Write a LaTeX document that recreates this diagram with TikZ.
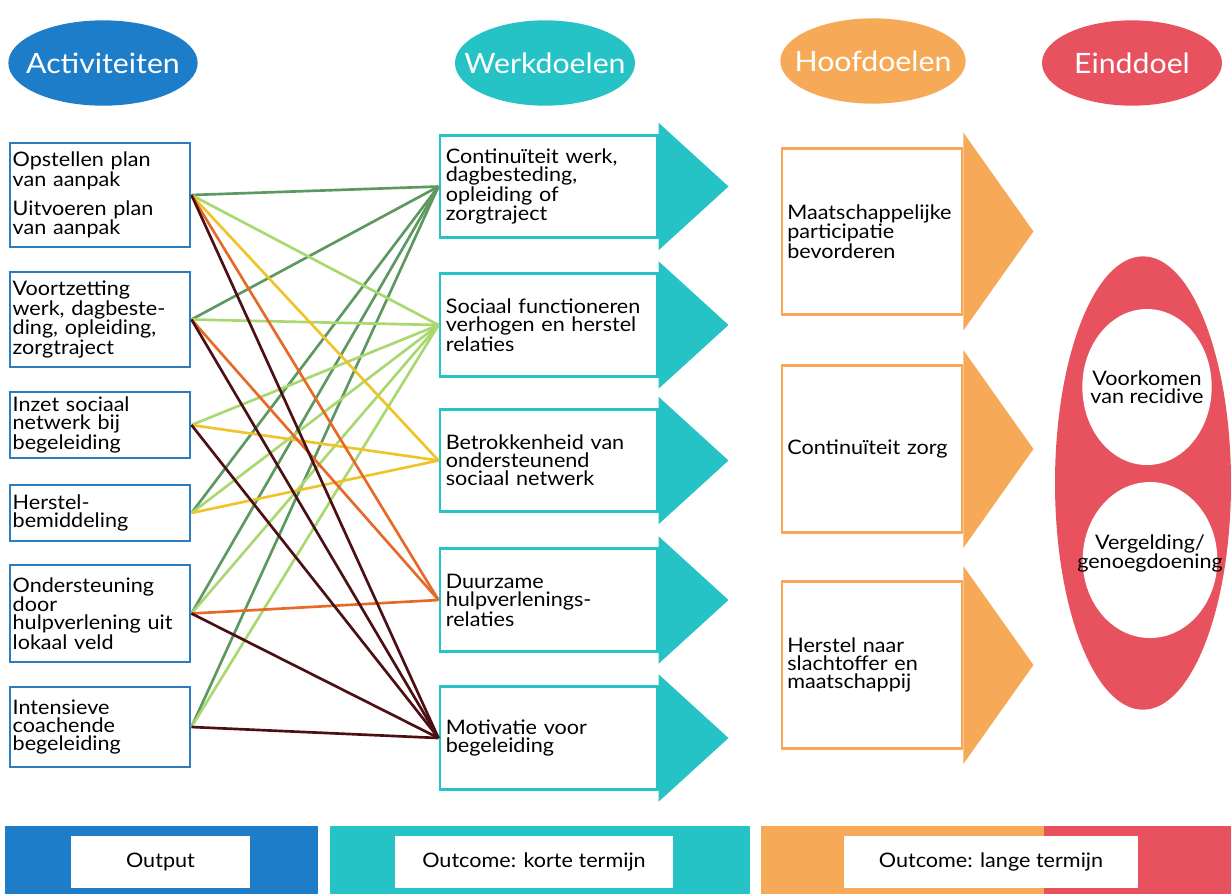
\documentclass[tikz,border=0pt]{standalone}
\usepackage{fontspec}
\setmainfont{Lato}[FakeStretch=1.08]
\usetikzlibrary{shapes.geometric,calc}

\definecolor{actblue}{RGB}{30,125,200}
\definecolor{actrand}{RGB}{45,125,190}
\definecolor{wdteal}{RGB}{38,195,198}
\definecolor{hdorange}{RGB}{246,170,88}
\definecolor{edred}{RGB}{232,82,95}
\definecolor{lndarkgreen}{RGB}{92,152,96}
\definecolor{lnlightgreen}{RGB}{170,216,112}
\definecolor{lnyellow}{RGB}{240,196,40}
\definecolor{lnorange}{RGB}{230,105,40}
\definecolor{lnbrown}{RGB}{76,16,20}

\begin{document}
\begin{tikzpicture}[x=0.75pt,y=0.75pt,yscale=-1,xscale=1,
  kop/.style={ellipse, minimum width=142pt, minimum height=64pt, inner sep=0pt},
  koptekst/.style={text=white, inner sep=0pt, font=\fontsize{21}{23}\selectfont},
  actbox/.style={draw=actrand, line width=2.2pt, fill=white, text width=131pt, inner xsep=2pt, inner ysep=0pt, align=left, font=\fontsize{15}{13.6}\selectfont},
  wdbox/.style={draw=wdteal, line width=2.2pt, fill=white, text width=154pt, inner xsep=4.4pt, inner ysep=0pt, minimum height=77pt, align=left, font=\fontsize{15}{13.6}\selectfont},
  hdbox/.style={draw=hdorange, line width=2.2pt, fill=white, text width=127pt, inner xsep=4pt, inner ysep=0pt, minimum height=125pt, align=left, font=\fontsize{15}{13.6}\selectfont},
  doelrond/.style={ellipse, fill=white, inner sep=0pt},
  doeltekst/.style={inner sep=0pt, align=center, font=\fontsize{15}{13.6}\selectfont},
  termijn/.style={fill=white, minimum height=39pt, inner sep=0pt, font=\fontsize{15}{16}\selectfont},
  lijn/.style={line width=2pt}
]
\useasboundingbox (0,0) rectangle (1231,894);

% Text Node
\node[kop, fill=actblue, label={[koptekst]center:Activiteiten}] (kopact) at (103,63) {};
% Text Node
\node[kop, fill=wdteal, minimum width=135pt, label={[koptekst]center:Werkdoelen}] (kopwd) at (545,63) {};
% Text Node
\node[kop, fill=hdorange, minimum width=139pt, label={[koptekst]center:Hoofdoelen}] (kophd) at (873,61) {};
% Text Node
\node[kop, fill=edred, minimum width=135pt, label={[koptekst]center:Einddoel}] (koped) at (1132,63) {};

%Shape: Rectangle
\node[actbox, minimum height=78pt] (act1) at (100,195) {Opstellen plan\\van aanpak\\[7pt]Uitvoeren plan\\van aanpak};
\node[actbox, minimum height=71.25pt] (act2) at (100,319.5) {Voortzetting\\werk, dagbeste-\\ding, opleiding,\\zorgtraject};
\node[actbox, minimum height=49.5pt] (act3) at (100,425) {Inzet sociaal\\netwerk bij\\begeleiding};
\node[actbox, minimum height=42pt] (act4) at (100,513) {Herstel-\\bemiddeling};
\node[actbox, minimum height=72.75pt] (act5) at (100,613.5) {Ondersteuning\\door\\hulpverlening uit\\lokaal veld};
\node[actbox, minimum height=60pt] (act6) at (100,727) {Intensieve\\coachende\\begeleiding};

%Shape: Rectangle
\node[wdbox] (wd1) at (548.5,186.5) {Continuïteit werk,\\dagbesteding,\\opleiding of\\zorgtraject};
\node[wdbox] (wd2) at (548.5,325) {Sociaal functioneren\\verhogen en herstel\\relaties};
\node[wdbox] (wd3) at (548.5,460.5) {Betrokkenheid van\\ondersteunend\\sociaal netwerk};
\node[wdbox] (wd4) at (548.5,600) {Duurzame\\hulpverlenings-\\relaties};
\node[wdbox] (wd5) at (548.5,738) {Motivatie voor\\begeleiding};

%Shape: Triangle
\fill[wdteal] ($(wd1.north east)+(0,-11)$) -- ($(wd1.east)+(70,0)$) -- ($(wd1.south east)+(0,11)$) -- cycle;
\fill[wdteal] ($(wd2.north east)+(0,-11)$) -- ($(wd2.east)+(70,0)$) -- ($(wd2.south east)+(0,11)$) -- cycle;
\fill[wdteal] ($(wd3.north east)+(0,-11)$) -- ($(wd3.east)+(70,0)$) -- ($(wd3.south east)+(0,11)$) -- cycle;
\fill[wdteal] ($(wd4.north east)+(0,-11)$) -- ($(wd4.east)+(70,0)$) -- ($(wd4.south east)+(0,11)$) -- cycle;
\fill[wdteal] ($(wd5.north east)+(0,-11)$) -- ($(wd5.east)+(70,0)$) -- ($(wd5.south east)+(0,11)$) -- cycle;

%Shape: Rectangle
\node[hdbox] (hd1) at (872,231.5) {Maatschappelijke\\participatie\\bevorderen};
\node[hdbox] (hd2) at (872,449) {Continuïteit zorg};
\node[hdbox] (hd3) at (872,665) {Herstel naar\\slachtoffer en\\maatschappij};

%Shape: Triangle
\fill[hdorange] ($(hd1.north east)+(0,-14)$) -- ($(hd1.east)+(70,0)$) -- ($(hd1.south east)+(0,14)$) -- cycle;
\fill[hdorange] ($(hd2.north east)+(0,-14)$) -- ($(hd2.east)+(70,0)$) -- ($(hd2.south east)+(0,14)$) -- cycle;
\fill[hdorange] ($(hd3.north east)+(0,-14)$) -- ($(hd3.east)+(70,0)$) -- ($(hd3.south east)+(0,14)$) -- cycle;

%Shape: Ellipse
\node[ellipse, fill=edred, minimum width=132pt, minimum height=340pt] (einddoel) at (1143,483) {};
% Text Node
\node[doelrond, minimum width=97pt, minimum height=117pt, label={[doeltekst]center:{Voorkomen\\van recidive}}] (ed1) at (1147,387) {};
\node[doelrond, minimum width=101pt, minimum height=117pt, label={[doeltekst, yshift=5pt]center:{Vergelding/\\genoegdoening}}] (ed2) at (1150,560) {};

%Straight Lines
\draw[lijn, lndarkgreen] (act1.east) -- (wd1.west);
\draw[lijn, lndarkgreen] (act2.east) -- (wd1.west);
\draw[lijn, lndarkgreen] (act4.east) -- (wd1.west);
\draw[lijn, lndarkgreen] (act5.east) -- (wd1.west);
\draw[lijn, lndarkgreen] (act6.east) -- (wd1.west);
%Straight Lines
\draw[lijn, lnlightgreen] (act1.east) -- (wd2.west);
\draw[lijn, lnlightgreen] (act2.east) -- (wd2.west);
\draw[lijn, lnlightgreen] (act3.east) -- (wd2.west);
\draw[lijn, lnlightgreen] (act4.east) -- (wd2.west);
\draw[lijn, lnlightgreen] (act5.east) -- (wd2.west);
\draw[lijn, lnlightgreen] (act6.east) -- (wd2.west);
%Straight Lines
\draw[lijn, lnyellow] (act1.east) -- (wd3.west);
\draw[lijn, lnyellow] (act3.east) -- (wd3.west);
\draw[lijn, lnyellow] (act4.east) -- (wd3.west);
%Straight Lines
\draw[lijn, lnorange] (act1.east) -- (wd4.west);
\draw[lijn, lnorange] (act2.east) -- (wd4.west);
\draw[lijn, lnorange] (act5.east) -- (wd4.west);
%Straight Lines
\draw[lijn, lnbrown] (act1.east) -- (wd5.west);
\draw[lijn, lnbrown] (act2.east) -- (wd5.west);
\draw[lijn, lnbrown] (act3.east) -- (wd5.west);
\draw[lijn, lnbrown] (act5.east) -- (wd5.west);
\draw[lijn, lnbrown] (act6.east) -- (wd5.west);

%Shape: Rectangle
\fill[actblue] (5,826) rectangle (318,894);
\fill[wdteal] (330,826) rectangle (750,894);
\fill[hdorange] (761,826) rectangle (1044,894);
\fill[edred] (1044,826) rectangle (1231,894);
% Text Node
\node[termijn, minimum width=134pt] (output) at (160.5,862) {Output};
\node[termijn, minimum width=208pt] (kort) at (534,862) {Outcome: korte termijn};
\node[termijn, minimum width=220pt] (lang) at (991,862) {Outcome: lange termijn};

\end{tikzpicture}
\end{document}
